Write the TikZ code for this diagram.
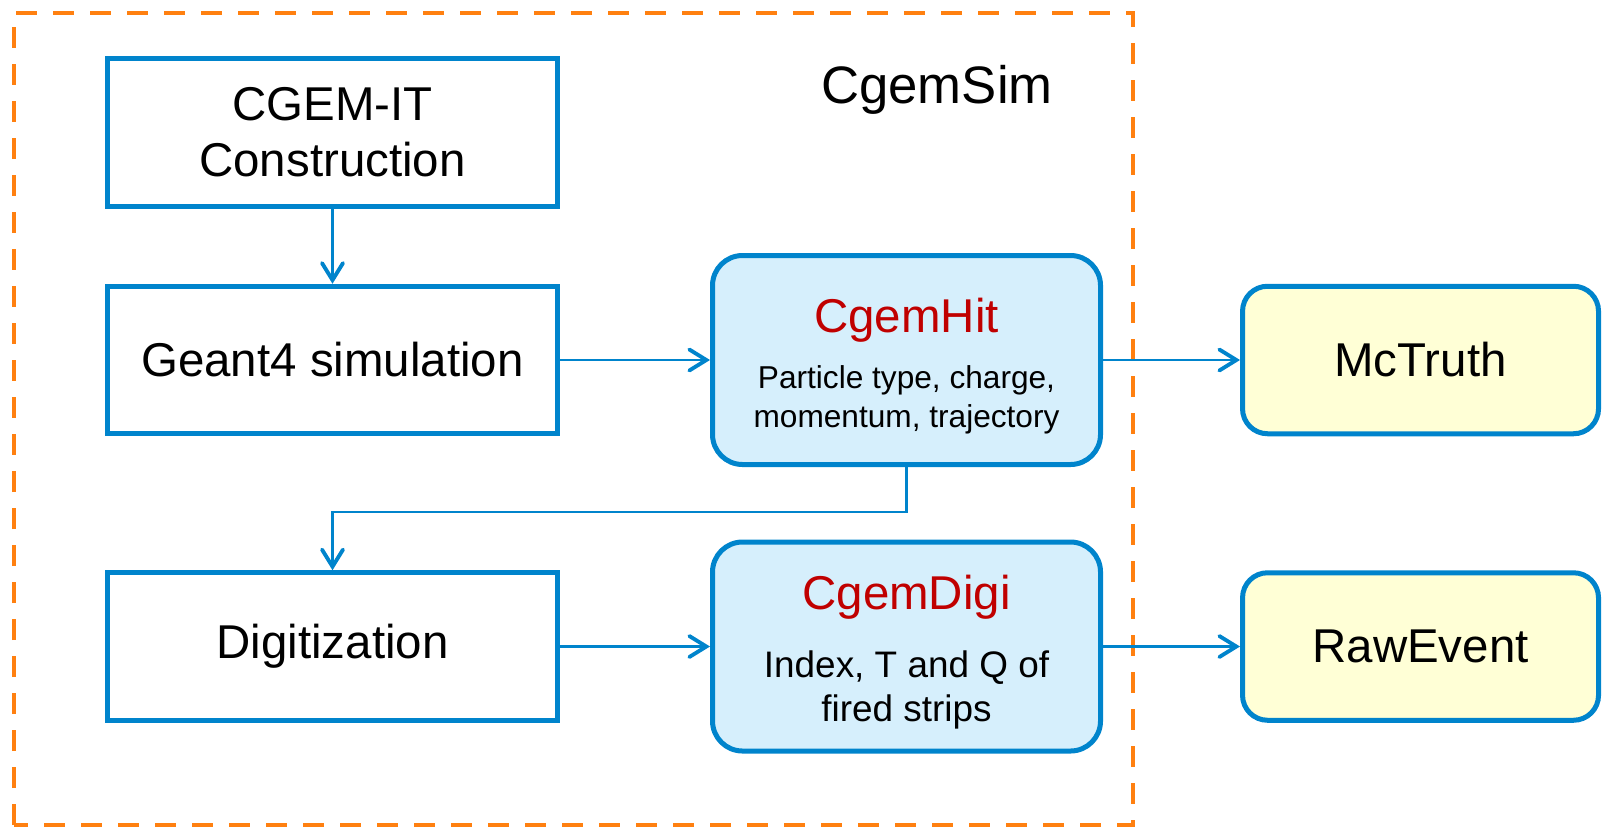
\documentclass[tikz,border=0pt]{standalone}
\usepackage{fontspec}
\setmainfont{Liberation Sans}
\usepackage{xcolor}
\usepackage{tikz}
\usetikzlibrary{arrows.meta, positioning}
\definecolor{cBlue}{RGB}{0,132,204}
\definecolor{cHitBg}{RGB}{214,239,252}
\definecolor{cOutBg}{RGB}{255,255,214}
\definecolor{cOrange}{RGB}{255,128,16}
\definecolor{cRed}{RGB}{192,0,0}
\newcommand{\bigfont}{\fontsize{27}{32}\selectfont}
\tikzset{
	stepbox/.style ={rectangle, draw=cBlue, line width=2.85pt, fill=white, minimum width=9.0cm, minimum height=2.95cm, align=center, font=\bigfont},
	databox/.style ={rectangle, rounded corners=0.6cm, draw=cBlue, line width=2.85pt, fill=cHitBg, minimum width=7.76cm, minimum height=4.18cm, align=center},
	outbox/.style  ={rectangle, rounded corners=0.5cm, draw=cBlue, line width=2.85pt, fill=cOutBg, minimum width=7.12cm, minimum height=2.95cm, align=center, font=\bigfont},
	simframe/.style={draw=cOrange, line width=2.3pt, dash pattern=on 0.42cm off 0.32cm},
	sig/.style     ={-{Straight Barb[length=0.34cm, width=0.42cm, line width=2.2pt, line cap=round]}, line width=1.5pt, cBlue},
}
\begin{document}
\begin{tikzpicture}
				\useasboundingbox (0,0) rectangle (32.08,16.56);
				\draw[simframe] (0.28,0.06) rectangle (22.66,16.3);
				\node[font=\fontsize{30}{36}\selectfont] (simlabel) at (18.74,14.76) {CgemSim};
				\node[stepbox] (cgem) at (6.65,13.91) {CGEM-IT\\ Construction};
				\node[stepbox, below=1.5cm of cgem] (geant) {Geant4 simulation};
				\node[stepbox, below=2.68cm of geant] (digit) {Digitization};
				% struts keep the text block where the slide has it
				\node[databox, right=3cm of geant, font=\fontsize{18}{22.2}\selectfont] (hit) {{\bigfont\color{cRed}\rule{0pt}{27pt}CgemHit}\\[9.7pt] Particle type, charge,\\ momentum, trajectory};
				\node[databox, right=3cm of digit, font=\fontsize{21}{25}\selectfont] (digi) {{\bigfont\color{cRed}\rule{0pt}{26pt}CgemDigi}\\[14pt] Index, T and Q of\\ fired strips};
				\node[outbox, right=2.74cm of hit] (mctruth) {McTruth};
				\node[outbox, right=2.74cm of digi] (raw) {RawEvent};
				\draw[sig] (cgem) -- (geant);
				\draw[sig] (geant) -- (hit);
				\draw[sig] (hit) -- (mctruth);
				\draw[sig] (hit.south) -- ++(0,-0.9) -| (digit.north);
				\draw[sig] (digit) -- (digi);
				\draw[sig] (digi) -- (raw);
			\end{tikzpicture}
\end{document}
